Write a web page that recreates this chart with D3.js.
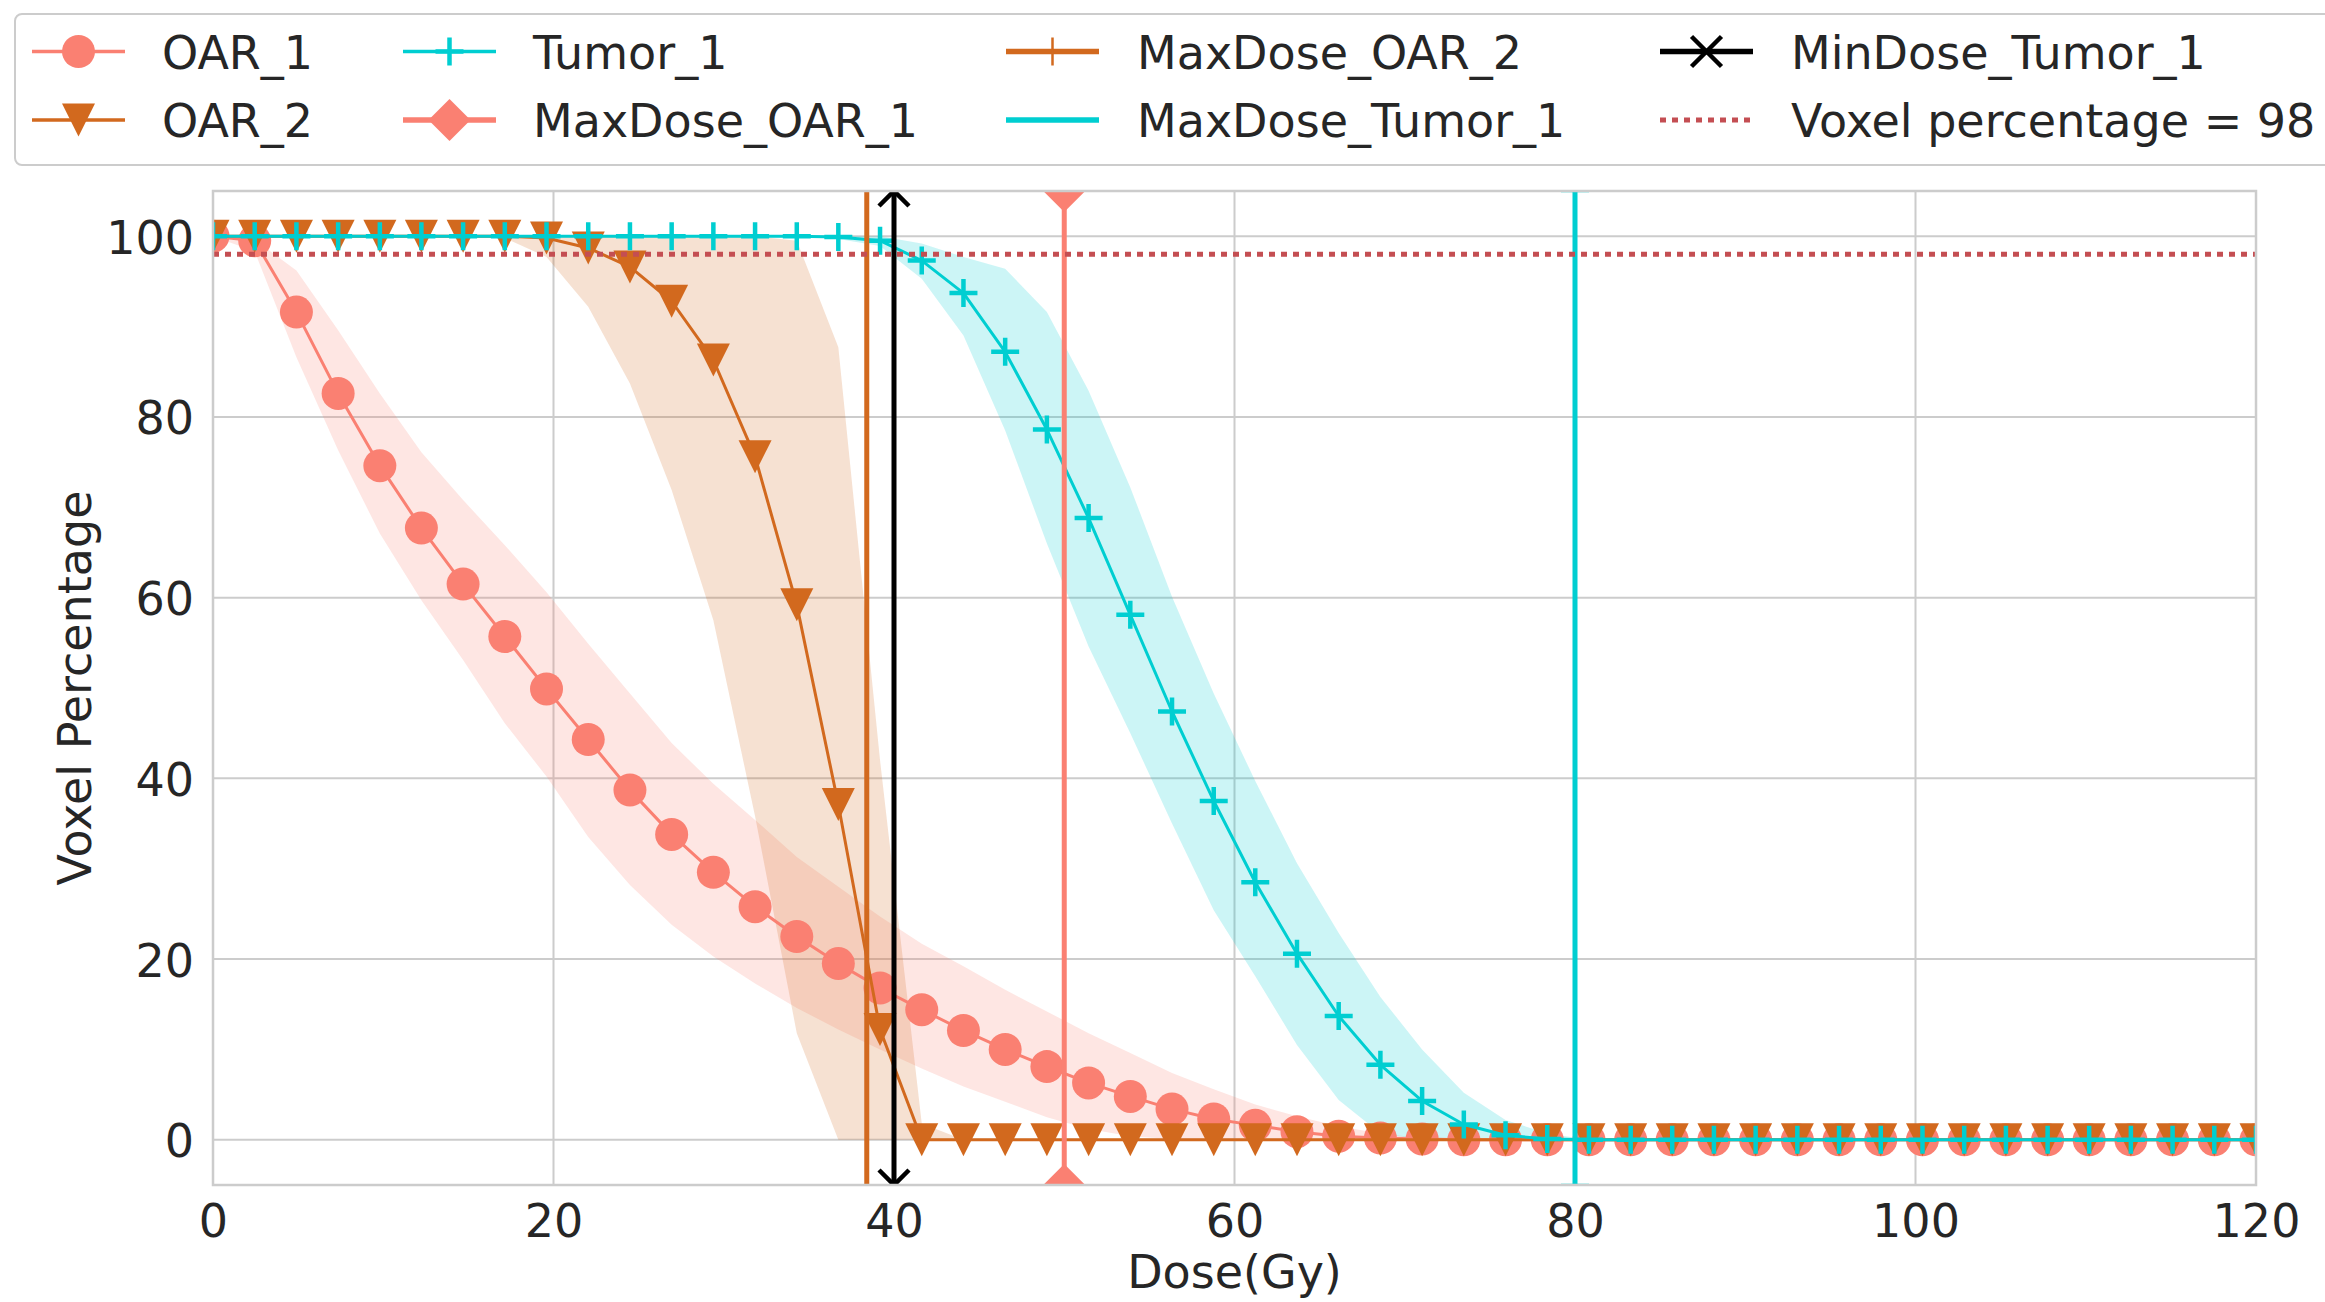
<!DOCTYPE html>
<html><head><meta charset="utf-8">
<script src="https://cdn.jsdelivr.net/npm/d3@7"></script>
<style>body{margin:0;background:#fff} svg{display:block}</style>
</head><body>
<script>
// ---------------- data ----------------
const dose = [0,2.45,4.9,7.35,9.8,12.24,14.69,17.14,19.59,22.04,24.49,26.94,29.39,31.84,34.29,36.73,39.18,41.63,44.08,46.53,48.98,51.43,53.88,56.33,58.78,61.22,63.67,66.12,68.57,71.02,73.47,75.92,78.37,80.82,83.27,85.71,88.16,90.61,93.06,95.51,97.96,100.41,102.86,105.31,107.76,110.2,112.65,115.1,117.55,120];

const oar1Mean  = [100,99.5,91.6,82.6,74.6,67.7,61.5,55.7,49.9,44.3,38.7,33.8,29.6,25.8,22.5,19.5,16.8,14.4,12.1,10.0,8.1,6.3,4.8,3.4,2.3,1.6,0.9,0.4,0.2,0.1,0,0,0,0,0,0,0,0,0,0,0,0,0,0,0,0,0,0,0,0];
const oar1Upper = [100,99.6,96.2,89.6,82.6,76.1,70.8,65.8,60.6,54.9,49.4,43.9,39.4,35.4,31.3,28.0,24.7,21.7,19.2,16.6,14.2,11.8,9.6,7.4,5.6,3.9,2.6,1.5,0.7,0.2,0,0,0,0,0,0,0,0,0,0,0,0,0,0,0,0,0,0,0,0];
const oar1Lower = [100,98.3,86.6,76.3,67.1,59.7,53.1,46.1,40.2,33.5,28.2,23.8,20.3,17.3,14.6,12.2,10.0,7.9,5.9,4.2,2.5,1.2,0.4,0.1,0,0,0,0,0,0,0,0,0,0,0,0,0,0,0,0,0,0,0,0,0,0,0,0,0,0];

const oar2Mean  = [100,100,100,100,100,100,100,100,99.8,98.7,96.6,92.8,86.3,75.6,59.2,37.1,12.2,0,0,0,0,0,0,0,0,0,0,0,0,0,0,0,0,0,0,0,0,0,0,0,0,0,0,0,0,0,0,0,0,0];
const oar2Upper = [100,100,100,100,100,100,100,100,100,100,100,100,100,100,99.5,87.7,42.0,1.8,0,0,0,0,0,0,0,0,0,0,0,0,0,0,0,0,0,0,0,0,0,0,0,0,0,0,0,0,0,0,0,0];
const oar2Lower = [100,100,100,100,100,100,100,99.8,97.7,92.2,83.7,71.9,57.5,35.8,11.8,0,0,0,0,0,0,0,0,0,0,0,0,0,0,0,0,0,0,0,0,0,0,0,0,0,0,0,0,0,0,0,0,0,0,0];

const tumorMean  = [100,100,100,100,100,100,100,100,100,100,100,100,100,100,100,99.9,99.5,97.3,93.7,87.2,78.6,68.8,58.1,47.4,37.5,28.5,20.6,13.7,8.3,4.3,1.7,0.5,0.1,0,0,0,0,0,0,0,0,0,0,0,0,0,0,0,0,0];
const tumorUpper = [100,100,100,100,100,100,100,100,100,100,100,100,100,100,100,100,100,99.2,97.7,96.4,91.6,82.9,72.2,60.1,49.4,39.7,30.6,22.9,15.8,10.0,5.2,2.2,0.7,0,0,0,0,0,0,0,0,0,0,0,0,0,0,0,0,0];
const tumorLower = [100,100,100,100,100,100,100,100,100,100,100,100,100,100,100,99.7,98.9,95.3,89.0,78.5,66.0,54.6,45.0,35.0,25.4,18.1,10.5,4.4,0.7,0,0,0,0,0,0,0,0,0,0,0,0,0,0,0,0,0,0,0,0,0];

const maxDoseOAR1 = 50;
const maxDoseOAR2 = 38.4;
const maxDoseTumor1 = 80;
const minDoseTumor1 = 40;
const voxelThreshold = 98;

const xTicks = [0,20,40,60,80,100,120];
const yTicks = [0,20,40,60,80,100];
const legendLabels = ["OAR_1","OAR_2","Tumor_1","MaxDose_OAR_1","MaxDose_OAR_2","MaxDose_Tumor_1","MinDose_Tumor_1","Voxel percentage = 98"];

// ---------------- layout ----------------
const W = 2325, H = 1302;
const P = {left:213, right:2256, top:191, bottom:1185};
const C = {salmon:"#FA8072", choc:"#D2691E", turq:"#00CED1", black:"#000000", red:"#C44E52", grid:"#cccccc", text:"#262626"};
const FONT = "DejaVu Sans";
const FS = 46;

const x = d3.scaleLinear().domain([0,120]).range([P.left,P.right]);
const y = d3.scaleLinear().domain([-5,105]).range([P.bottom,P.top]);

const svg = d3.select("body").append("svg").attr("width",W).attr("height",H)
  .attr("font-family",FONT);
svg.append("rect").attr("width",W).attr("height",H).attr("fill","#fff");
svg.append("defs").append("clipPath").attr("id","clip").append("rect")
  .attr("x",P.left).attr("y",P.top).attr("width",P.right-P.left).attr("height",P.bottom-P.top);

// grid
const grid = svg.append("g");
grid.selectAll(".vx").data(xTicks).join("line")
  .attr("x1",d=>x(d)).attr("x2",d=>x(d)).attr("y1",P.top).attr("y2",P.bottom)
  .attr("stroke",C.grid).attr("stroke-width",2);
grid.selectAll(".hy").data(yTicks).join("line")
  .attr("y1",d=>y(d)).attr("y2",d=>y(d)).attr("x1",P.left).attr("x2",P.right)
  .attr("stroke",C.grid).attr("stroke-width",2);

// axes
const gx = svg.append("g").attr("transform",`translate(0,${P.bottom})`)
  .call(d3.axisBottom(x).tickValues(xTicks).tickSize(0).tickFormat(d3.format("d")));
gx.select(".domain").remove();
gx.attr("font-size",FS).attr("font-family",FONT).attr("color",C.text);
gx.selectAll("text").attr("y",52).attr("dy",null);

const gy = svg.append("g").attr("transform",`translate(${P.left},0)`)
  .call(d3.axisLeft(y).tickValues(yTicks).tickSize(0).tickFormat(d3.format("d")));
gy.select(".domain").remove();
gy.attr("font-size",FS).attr("font-family",FONT).attr("color",C.text);
gy.selectAll("text").attr("x",-19).attr("dy",17);

svg.append("text").attr("x",(P.left+P.right)/2).attr("y",1288).attr("text-anchor","middle")
  .attr("font-size",FS).attr("fill",C.text).text("Dose(Gy)");
svg.append("text").attr("transform",`translate(91,${(P.top+P.bottom)/2}) rotate(-90)`)
  .attr("text-anchor","middle").attr("font-size",FS).attr("fill",C.text).text("Voxel Percentage");

// markers
const M = {
  circle:  g => g.append("circle").attr("r",16.5),
  tri:     g => g.append("path").attr("d","M-16.5,-16.5L16.5,-16.5L0,16.5Z"),
  plus:    g => g.append("path").attr("d","M-14,0H14M0,-14V14"),
  diamond: g => g.append("path").attr("d","M0,-21L21,0L0,21L-21,0Z"),
  cross:   g => g.append("path").attr("d","M-15,-15L15,15M-15,15L15,-15"),
  vbar:    g => g.append("path").attr("d","M0,-14V14"),
  hbar:    g => g.append("path").attr("d","M-14,0H14")
};
function styleMarker(sel, kind, color){
  if (kind==="circle"||kind==="tri"||kind==="diamond") sel.attr("fill",color).attr("stroke","none");
  else sel.attr("fill","none").attr("stroke",color)
    .attr("stroke-width", kind==="plus"?4.5: kind==="cross"?4.5: 2.5);
}

const plotG = svg.append("g").attr("clip-path","url(#clip)");

// bands
const series = [
  {mean:oar1Mean, up:oar1Upper, lo:oar1Lower, color:C.salmon, marker:"circle"},
  {mean:oar2Mean, up:oar2Upper, lo:oar2Lower, color:C.choc, marker:"tri"},
  {mean:tumorMean, up:tumorUpper, lo:tumorLower, color:C.turq, marker:"plus"}
];
const area = d3.area().x(d=>x(d.x)).y0(d=>y(d.lo)).y1(d=>y(d.up));
series.forEach(s=>{
  const pts = dose.map((d,i)=>({x:d, lo:s.lo[i], up:s.up[i]}));
  plotG.append("path").attr("d",area(pts)).attr("fill",s.color).attr("fill-opacity",0.2);
});
// lines + markers
const line = d3.line().x(d=>x(d.x)).y(d=>y(d.y));
series.forEach(s=>{
  const pts = dose.map((d,i)=>({x:d, y:s.mean[i]}));
  plotG.append("path").attr("d",line(pts)).attr("fill","none").attr("stroke",s.color)
    .attr("stroke-width",3).attr("stroke-linejoin","round");
  pts.forEach(p=>{
    const g = plotG.append("g").attr("transform",`translate(${x(p.x)},${y(p.y)})`);
    styleMarker(M[s.marker](g), s.marker, s.color);
  });
});

// vertical reference lines with end markers (clipped)
const vlines = [
  {v:maxDoseOAR1, color:C.salmon, marker:"diamond"},
  {v:maxDoseOAR2, color:C.choc, marker:"vbar"},
  {v:maxDoseTumor1, color:C.turq, marker:"hbar"},
  {v:minDoseTumor1, color:C.black, marker:"cross"}
];
vlines.forEach(l=>{
  plotG.append("line").attr("x1",x(l.v)).attr("x2",x(l.v)).attr("y1",y(-5)).attr("y2",y(105))
    .attr("stroke",l.color).attr("stroke-width",5);
  [-5,105].forEach(e=>{
    const g = plotG.append("g").attr("transform",`translate(${x(l.v)},${y(e)})`);
    styleMarker(M[l.marker](g), l.marker, l.color);
  });
});

// horizontal threshold
plotG.append("line").attr("x1",P.left).attr("x2",P.right).attr("y1",y(voxelThreshold)).attr("y2",y(voxelThreshold))
  .attr("stroke",C.red).attr("stroke-width",5).attr("stroke-dasharray","6,6");

// spines
svg.append("rect").attr("x",P.left).attr("y",P.top).attr("width",P.right-P.left).attr("height",P.bottom-P.top)
  .attr("fill","none").attr("stroke",C.grid).attr("stroke-width",2.5);

// legend
const lg = svg.append("g");
lg.append("rect").attr("x",15).attr("y",14).attr("width",2340).attr("height",151).attr("rx",7)
  .attr("fill","#fff").attr("fill-opacity",0.8).attr("stroke",C.grid).attr("stroke-width",2);
const colX = [32, 403, 1006, 1660];
const textX = [162, 533, 1137, 1791];
const rowY = [51.5, 120];
const handles = [
  {color:C.salmon, lw:3.5, marker:"circle"},
  {color:C.choc, lw:3.5, marker:"tri"},
  {color:C.turq, lw:3.5, marker:"plus"},
  {color:C.salmon, lw:5.5, marker:"diamond"},
  {color:C.choc, lw:5.5, marker:"vbar"},
  {color:C.turq, lw:5.5, marker:"hbar"},
  {color:C.black, lw:5.5, marker:"cross"},
  {color:C.red, lw:5, marker:null, dash:"6,6"}
];
handles.forEach((h,i)=>{
  const col = Math.floor(i/2), row = i%2;
  const x0 = colX[col], yy = rowY[row];
  const ln = lg.append("line").attr("x1",x0).attr("x2",x0+93).attr("y1",yy).attr("y2",yy)
    .attr("stroke",h.color).attr("stroke-width",h.lw);
  if (h.dash) ln.attr("stroke-dasharray",h.dash);
  if (h.marker){
    const g = lg.append("g").attr("transform",`translate(${x0+46.5},${yy})`);
    styleMarker(M[h.marker](g), h.marker, h.color);
  }
  lg.append("text").attr("x",textX[col]).attr("y",yy+17).attr("font-size",FS).attr("fill",C.text)
    .text(legendLabels[i]);
});
</script>
</body></html>
